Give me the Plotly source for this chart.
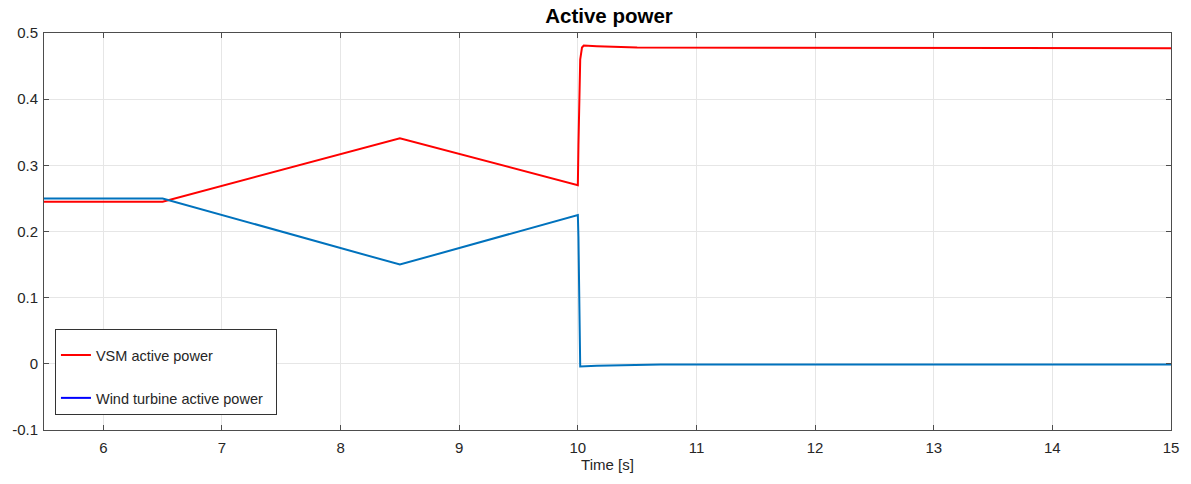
import plotly.graph_objects as go

# VSM active power (red)
vsm_t = [5.5, 6.5, 8.5, 10.0, 10.005, 10.01, 10.02, 10.035, 10.05, 10.16, 10.5, 15.0]
vsm_p = [0.245, 0.245, 0.341, 0.270, 0.33, 0.40, 0.46, 0.478, 0.481, 0.480, 0.478, 0.477]

# Wind turbine active power (blue)
wt_t = [5.5, 6.5, 8.5, 10.0, 10.005, 10.01, 10.02, 10.16, 10.7, 15.0]
wt_p = [0.250, 0.250, 0.150, 0.225, 0.192, 0.10, -0.004, -0.003, -0.001, -0.001]

x_ticks = [6, 7, 8, 9, 10, 11, 12, 13, 14, 15]
y_ticks = [-0.1, 0, 0.1, 0.2, 0.3, 0.4, 0.5]
y_tick_text = ["-0.1", "0", "0.1", "0.2", "0.3", "0.4", "0.5"]

FONT = "Liberation Sans, Arial, Helvetica, sans-serif"

fig = go.Figure()
fig.add_trace(go.Scatter(x=vsm_t, y=vsm_p, mode="lines", line=dict(color="#ff0000", width=2),
                         showlegend=False))
fig.add_trace(go.Scatter(x=wt_t, y=wt_p, mode="lines", line=dict(color="#0072bd", width=2),
                         showlegend=False))
# legend entries (as in the reference, legend swatches use pure colours)
fig.add_trace(go.Scatter(x=[None], y=[None], mode="lines", line=dict(color="#ff0000", width=2),
                         name="VSM active power", legendgroup="a"))
fig.add_trace(go.Scatter(x=[None], y=[None], mode="lines", line=dict(color="#0000ff", width=2),
                         name="Wind turbine active power&nbsp;&nbsp;", legendgroup="b"))

axis_common = dict(showline=True, linecolor="#4d4d4d", linewidth=1, mirror="ticks",
                   ticks="inside", ticklen=5, tickcolor="#4d4d4d",
                   showgrid=True, gridcolor="#e6e6e6", gridwidth=1, zeroline=False,
                   tickfont=dict(family=FONT, size=15, color="#262626"))

fig.update_xaxes(range=[5.5, 15], tickvals=x_ticks, ticklabelstandoff=4,
                 title=dict(text="Time [s]", font=dict(family=FONT, size=15, color="#262626"), standoff=4),
                 **axis_common)
fig.update_yaxes(range=[-0.1, 0.5], tickvals=y_ticks, ticktext=y_tick_text, ticklabelstandoff=2,
                 **axis_common)

fig.update_layout(
    width=1191, height=484,
    margin=dict(l=43, r=16, t=33, b=54),
    paper_bgcolor="white", plot_bgcolor="white",
    title=dict(text="<b>Active power</b>", x=(43 + 1175) / 2 / 1191, xanchor="center",
               y=1 - 16 / 484, yanchor="middle",
               font=dict(family=FONT, size=20.5, color="black")),
    legend=dict(x=(54 - 43) / 1132, y=(430 - 329) / 397, xanchor="left", yanchor="top",
                bgcolor="white", bordercolor="#333333", borderwidth=1,
                font=dict(family=FONT, size=14.5, color="#262626"),
                title=dict(text=" ", font=dict(size=7)),
                tracegroupgap=21, itemwidth=30),
    font=dict(family=FONT),
)

fig.write_html("out.html")
